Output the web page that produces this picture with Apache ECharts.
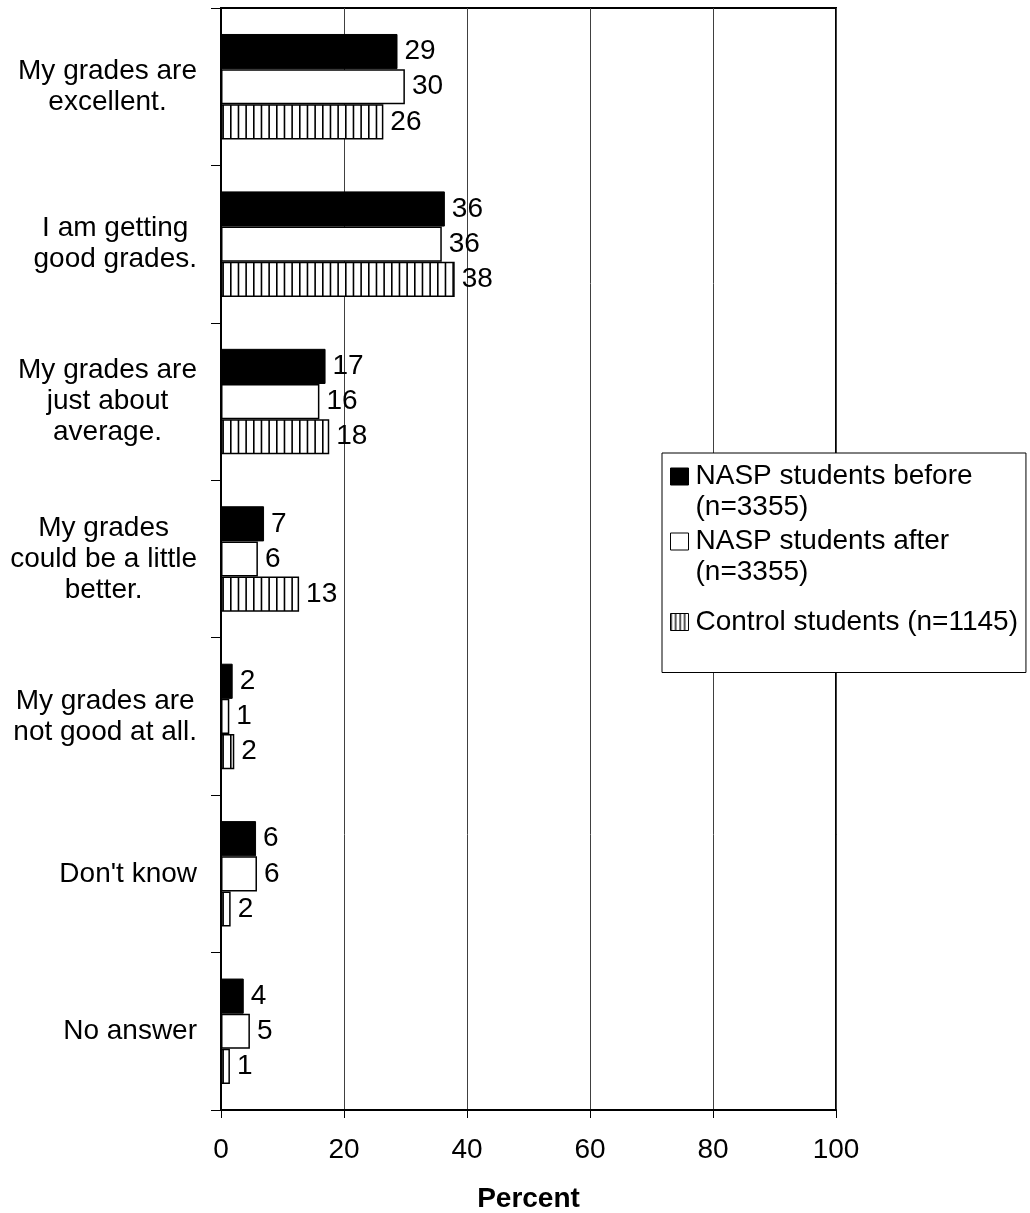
<!DOCTYPE html>
<html>
<head>
<meta charset="utf-8">
<script src="https://cdn.jsdelivr.net/npm/echarts@6/dist/echarts.min.js"></script>
<style>
  html, body { margin: 0; padding: 0; background: #fff; }
  #chart { width: 1030px; height: 1213px; }
</style>
</head>
<body>
<div id="chart"></div>
<script>
// ---- data ----
const categories = [
  "My grades are\nexcellent.",
  "I am getting\ngood grades.",
  "My grades are\njust about\naverage.",
  "My grades\ncould be a little\nbetter.",
  "My grades are\nnot good at all.",
  "Don't know",
  "No answer"
];
const seriesNames = [
  "NASP students before\n(n=3355)",
  "NASP students after\n(n=3355)",
  "Control students (n=1145)"
];
const beforeValues  = [28.7, 36.4, 17.0, 7.0, 1.9, 5.7, 3.7];
const afterValues   = [29.9, 35.9, 16.0, 6.0, 1.35, 5.85, 4.7];
const controlValues = [26.4, 38.0, 17.6, 12.7, 2.16, 1.57, 1.45];
const xTicks = [0, 20, 40, 60, 80, 100];

// ---- vertical stripe patterns ----
function makeStripes(w, xs, lw) {
  const c = document.createElement('canvas');
  c.width = w; c.height = 10;
  const ctx = c.getContext('2d');
  ctx.fillStyle = '#fff';
  ctx.fillRect(0, 0, w, 10);
  ctx.fillStyle = '#000';
  xs.forEach(x => ctx.fillRect(x, 0, lw, 10));
  return c;
}
const stripes = { image: makeStripes(23, [0, 7.67, 15.33], 1.6), repeat: 'repeat' };
const iconStripes = { image: makeStripes(9, [0, 4.5], 1.3), repeat: 'repeat' };

const FONT = 'Liberation Sans, Arial, sans-serif';
const FS = 28;

const labelCfg = {
  show: true,
  position: 'right',
  distance: 7,
  color: '#000',
  fontFamily: FONT,
  fontSize: FS,
  formatter: p => String(Math.round(p.value))
};

const chart = echarts.init(document.getElementById('chart'), null, { renderer: 'canvas' });

const iconTwoLine = 'path://M0,0M0,7h18v17h-18zM20,62';
const iconOneLine = 'path://M0,0M0,22.5h18v17h-18zM20,62';

chart.setOption({
  animation: false,
  backgroundColor: '#fff',
  textStyle: { fontFamily: FONT },
  grid: {
    left: 221, right: 194, top: 8, bottom: 103,
    containLabel: false,
    outerBoundsMode: 'none',
    show: true, borderColor: '#000', borderWidth: 2, backgroundColor: 'transparent'
  },
  legend: {
    orient: 'vertical',
    left: 662, top: 453,
    padding: [7.5, 8, 19, 8],
    itemGap: 2,
    itemWidth: 20, itemHeight: 62,
    backgroundColor: '#fff',
    borderColor: '#000', borderWidth: 1,
    selectedMode: false,
    itemStyle: { borderWidth: 1, borderColor: '#000' },
    textStyle: { color: '#000', fontFamily: FONT, fontSize: FS, lineHeight: 31 },
    data: [
      { name: seriesNames[0], icon: iconTwoLine },
      { name: seriesNames[1], icon: iconTwoLine },
      { name: seriesNames[2], icon: iconOneLine, itemStyle: { color: iconStripes, borderWidth: 1, borderColor: '#000' } }
    ]
  },
  xAxis: {
    type: 'value',
    min: 0, max: 100, interval: 20,
    name: 'Percent',
    nameLocation: 'middle',
    nameGap: 75,
    nameTextStyle: { color: '#000', fontFamily: FONT, fontSize: FS, fontWeight: 'bold' },
    axisLine: { show: true, lineStyle: { color: '#000', width: 2 } },
    axisTick: { show: true, length: 8, lineStyle: { color: '#000', width: 1 } },
    axisLabel: {
      color: '#000', fontFamily: FONT, fontSize: FS, margin: 26,
      formatter: v => xTicks.includes(v) ? String(v) : ''
    },
    splitLine: { show: true, lineStyle: { color: '#404040', width: 1 } }
  },
  yAxis: {
    type: 'category',
    inverse: true,
    data: categories,
    axisLine: { show: true, lineStyle: { color: '#000', width: 2 } },
    axisTick: { show: true, length: 10, inside: false, lineStyle: { color: '#000', width: 1 } },
    axisLabel: {
      color: '#000', fontFamily: FONT, fontSize: FS, margin: 24, lineHeight: 31,
      align: 'right',
      formatter: v => v.split('\n').map(s => '{c|' + s + '}').join('\n'),
      rich: { c: { align: 'center', color: '#000', fontFamily: FONT, fontSize: FS, lineHeight: 31 } }
    },
    splitLine: { show: false }
  },
  series: [
    {
      name: seriesNames[0], type: 'bar', data: beforeValues,
      barGap: '0%', barCategoryGap: '33%',
      itemStyle: { color: '#000', borderColor: '#000', borderWidth: 1 },
      label: labelCfg
    },
    {
      name: seriesNames[1], type: 'bar', data: afterValues,
      barGap: '0%', barCategoryGap: '33%',
      itemStyle: { color: '#fff', borderColor: '#000', borderWidth: 1.5 },
      label: labelCfg
    },
    {
      name: seriesNames[2], type: 'bar', data: controlValues,
      barGap: '0%', barCategoryGap: '33%',
      itemStyle: { color: stripes, borderColor: '#000', borderWidth: 1.5 },
      label: labelCfg
    }
  ]
});
</script>
</body>
</html>
